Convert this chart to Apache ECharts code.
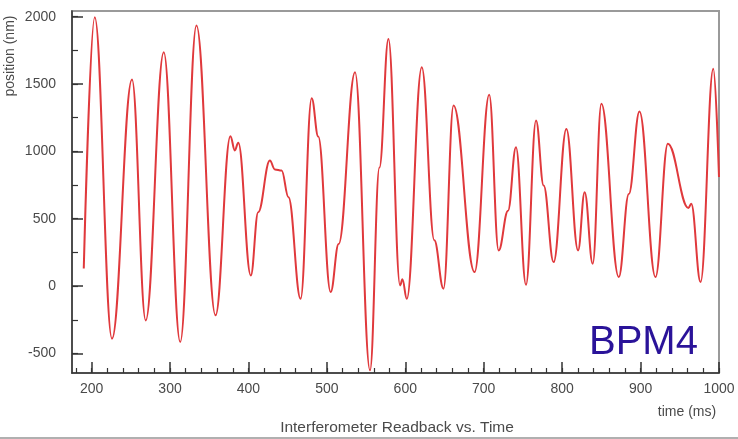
<!DOCTYPE html>
<html><head><meta charset="utf-8">
<script src="https://cdn.jsdelivr.net/npm/echarts@6/dist/echarts.min.js"></script>
<style>html,body{margin:0;padding:0;background:#fff}#c{width:738px;height:439px}</style>
</head><body><div id="c"></div>
<script>
// time (ms) and position (nm) at the turning points / shoulders of the reference trace
const timeMs = [190,204,226,251.5,269,292,313,333.7,358,377,382.6,387,403,412.4,427.3,433.7,442.3,451,466.5,
  480.6,489,504.8,515,535.9,555,567,578.5,593.4,596.3,601.9,621,637,648.7,661.5,688.3,707,719,731,741.1,753.9,
  766.7,776.4,789.1,805.4,820.3,828.7,839,850,872.2,885,898.6,919,934.8,961,964.6,976.5,992.7,1000];
const positionNm = [130,1995,-390,1533,-255,1736,-415,1934,-217,1113,1007,1064,79,549,932,866,858,660,-94,
  1395,1110,-44,312,1588,-625,880,1835,5,50,-94,1625,340,-19,1340,104,1420,265,560,1031,10,
  1229,747,178,1167,265,697,166,1353,67,683,1296,67,1056,580,611,30,1613,810];
const xTickLabels = [200,300,400,500,600,700,800,900,1000];
const xMinorTicks = [180,200,220,240,260,280,300,320,340,360,380,400,420,440,460,480,500,520,540,560,580,600,
  620,640,660,680,700,720,740,760,780,800,820,840,860,880,900,920,940,960,980,1000];
const yTickLabels = [-500,0,500,1000,1500,2000];
const yMinorTicks = [-500,-250,0,250,500,750,1000,1250,1500,1750,2000];

const FONT = 'Liberation Sans, Arial, Helvetica, sans-serif';
const chart = echarts.init(document.getElementById('c'), null, {renderer: 'canvas'});
const data = timeMs.map((t, i) => [t, positionNm[i]]);
const axisColor = '#333';
const labelColor = '#4a4a4a';
const plain = v => String(v);

chart.setOption({
  animation: false,
  backgroundColor: '#fff',
  grid: {left: 72, right: 19, top: 11, bottom: 66, show: true, borderColor: '#9a9a9a', borderWidth: 2, backgroundColor: '#fff'},
  xAxis: [
    {type: 'value', min: 175, max: 1000, position: 'bottom',
     axisLine: {show: true, onZero: false, lineStyle: {color: axisColor, width: 1.5}},
     axisTick: {show: true, inside: true, length: 11, customValues: xTickLabels, lineStyle: {color: axisColor, width: 1.5}},
     axisLabel: {customValues: xTickLabels, formatter: plain, color: labelColor, fontSize: 14, fontFamily: FONT, margin: 9},
     splitLine: {show: false}},
    {type: 'value', min: 175, max: 1000, position: 'bottom', offset: 0,
     axisLine: {show: false, onZero: false},
     axisTick: {show: true, inside: true, length: 5, customValues: xMinorTicks, lineStyle: {color: axisColor, width: 1.2}},
     axisLabel: {show: false}, splitLine: {show: false}}
  ],
  yAxis: [
    {type: 'value', min: -645, max: 2042, position: 'left',
     axisLine: {show: true, onZero: false, lineStyle: {color: axisColor, width: 1.5}},
     axisTick: {show: true, inside: true, length: 11, customValues: yTickLabels, lineStyle: {color: axisColor, width: 1.5}},
     axisLabel: {customValues: yTickLabels, formatter: plain, color: labelColor, fontSize: 14, fontFamily: FONT, margin: 16},
     splitLine: {show: false}},
    {type: 'value', min: -645, max: 2042, position: 'left', offset: 0,
     axisLine: {show: false, onZero: false},
     axisTick: {show: true, inside: true, length: 6, customValues: yMinorTicks, lineStyle: {color: axisColor, width: 1.2}},
     axisLabel: {show: false}, splitLine: {show: false}}
  ],
  series: [{
    type: 'line', data: data, xAxisIndex: 0, yAxisIndex: 0,
    showSymbol: false, smooth: 0.4, smoothMonotone: 'x', clip: true,
    lineStyle: {color: '#e0393c', width: 2}
  }],
  graphic: [
    {type: 'text', x: 10, y: 56, rotation: Math.PI / 2,
     style: {text: 'position (nm)', x: 0, y: 0, textAlign: 'center', textVerticalAlign: 'middle', font: '14px ' + FONT, fill: labelColor}},
    {type: 'text', x: 687, y: 412,
     style: {text: 'time (ms)', textAlign: 'center', textVerticalAlign: 'middle', font: '14px ' + FONT, fill: labelColor}},
    {type: 'text', x: 397, y: 428,
     style: {text: 'Interferometer Readback vs. Time', textAlign: 'center', textVerticalAlign: 'middle', font: '15.5px ' + FONT, fill: labelColor}},
    {type: 'text', x: 589, y: 343, z: 100,
     style: {text: 'BPM4', textAlign: 'left', textVerticalAlign: 'middle', font: '40px ' + FONT, fill: '#2a1399',
             shadowColor: 'rgba(0,0,0,0.3)', shadowOffsetX: 2, shadowOffsetY: 2, shadowBlur: 2}},
    {type: 'rect', shape: {x: 0, y: 437, width: 738, height: 2}, style: {fill: '#b0b0b0'}}
  ]
});
</script>
</body></html>
